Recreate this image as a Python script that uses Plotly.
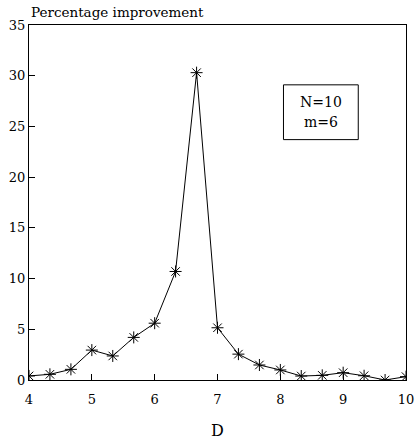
import plotly.graph_objects as go

D = [4, 4.333, 4.667, 5, 5.333, 5.667, 6, 6.333, 6.667, 7,
     7.333, 7.667, 8, 8.333, 8.667, 9, 9.333, 9.667, 10]
improvement = [0.4, 0.56, 1.05, 2.95, 2.37, 4.2, 5.6, 10.7, 30.3, 5.15,
               2.55, 1.48, 0.99, 0.39, 0.46, 0.72, 0.42, 0.0, 0.33]
x_ticks = [4, 5, 6, 7, 8, 9, 10]
y_ticks = [0, 5, 10, 15, 20, 25, 30, 35]
legend_lines = ["N=10", "m=6"]

font = "DejaVu Serif"

fig = go.Figure()
fig.add_trace(go.Scatter(
    x=D, y=improvement, mode="lines+markers",
    line=dict(color="black", width=1),
    marker=dict(symbol="asterisk-open", size=10, color="black",
                line=dict(color="black", width=1)),
    showlegend=False,
))

axis_common = dict(
    showgrid=False, zeroline=False, showline=True, linecolor="black",
    linewidth=1, mirror=True, ticks="inside", ticklen=6, tickcolor="black",
    tickfont=dict(family=font, size=13, color="black"), automargin=False,
)
fig.update_xaxes(range=[4, 10], tickvals=x_ticks, ticklabelstandoff=7, **axis_common,
                 title=dict(text="D", font=dict(family=font, size=16, color="black"),
                            standoff=22))
fig.update_yaxes(range=[0, 35], tickvals=y_ticks, ticklabelstandoff=0, **axis_common)

fig.add_shape(type="rect", xref="x", yref="y", x0=8.05, x1=9.24, y0=23.7, y1=29.1,
              line=dict(color="black", width=1), fillcolor="white")
fig.add_annotation(xref="x", yref="y", x=8.645, y=27.45, text=legend_lines[0],
                   showarrow=False, font=dict(family=font, size=14, color="black"))
fig.add_annotation(xref="x", yref="y", x=8.645, y=25.45, text=legend_lines[1],
                   showarrow=False, font=dict(family=font, size=14, color="black"))

fig.add_annotation(xref="paper", yref="paper", x=0, y=1, xanchor="left", yanchor="bottom",
                   yshift=3, xshift=0,
                   text="Percentage improvement", showarrow=False,
                   font=dict(family=font, size=13.5, color="black"))

fig.update_layout(
    width=416, height=440,
    margin=dict(l=29, r=10, t=25, b=60),
    paper_bgcolor="white", plot_bgcolor="white",
)
fig.write_html("out.html")
